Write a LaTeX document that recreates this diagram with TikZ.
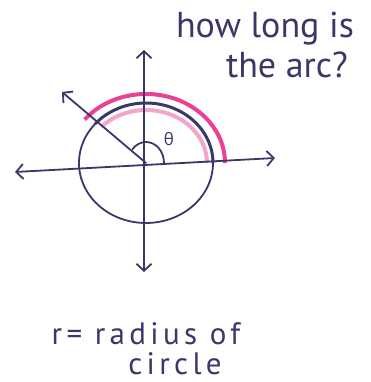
\documentclass[tikz,border=0pt]{standalone}
\usepackage{fontspec}
\setmainfont{PT Sans}
\newfontfamily\greekhand{Open Sans}
\usetikzlibrary{arrows.meta}
\definecolor{ink}{RGB}{58,56,104}
\definecolor{marker}{RGB}{236,64,146}
\definecolor{markerlight}{RGB}{244,165,202}
\tikzset{
  pen/.style={ink,line width=1.8pt,line cap=round},
  barb/.tip={Straight Barb[length=7pt,width=15pt]},
  axis/.style={pen,barb-barb},
  scrawl/.style={text=ink,font=\fontsize{36}{40}\selectfont,inner sep=0pt,anchor=base},
  loose/.style={scrawl,font=\fontsize{31}{34}\selectfont\addfontfeature{LetterSpace=14}},
}
\begin{document}
\begin{tikzpicture}[x=1pt,y=1pt]
\useasboundingbox (0,0) rectangle (371,382);
\coordinate (O) at (146,219);                   % centre of the circle
\coordinate (west) at (15,210); \coordinate (east) at (275,224);
\coordinate (south) at (144,110); \coordinate (north) at (144,332);
\coordinate (ray) at (62,290);                  % end of the rotated radius
\draw[marker,line width=4pt] (O) ++(141:79 and 69) arc[start angle=141,end angle=0,x radius=79,y radius=69];        % pink, outside
\draw[markerlight,line width=4pt] (O) ++(137:61 and 53) arc[start angle=137,end angle=0,x radius=61,y radius=53];   % pink, inside
\draw[pen] (O) ellipse[x radius=67,y radius=60];                                                                    % the circle
\draw[pen,line width=3pt] (O) ++(139:67 and 60) arc[start angle=139,end angle=0,x radius=67,y radius=60];          % the arc itself
\draw[axis] (west) -- (east);
\draw[axis] (south) -- (north);
\draw[pen,-barb] (O) -- (ray);
\draw[pen] (O) ++(0:18 and 21) arc[start angle=0,end angle=139,x radius=18,y radius=21];                          % the angle
\node[scrawl,font=\greekhand\fontsize{17}{19}\selectfont] (theta) at (169,236) {θ};
\node[scrawl] (question) at (265,344) {how long is};
\node[scrawl] (arc) at (287,304) {the arc?};
\node[loose] (radius) at (146,37) {r= radius of};
\node[loose] (circle) at (175,8) {circle};
\end{tikzpicture}
\end{document}
